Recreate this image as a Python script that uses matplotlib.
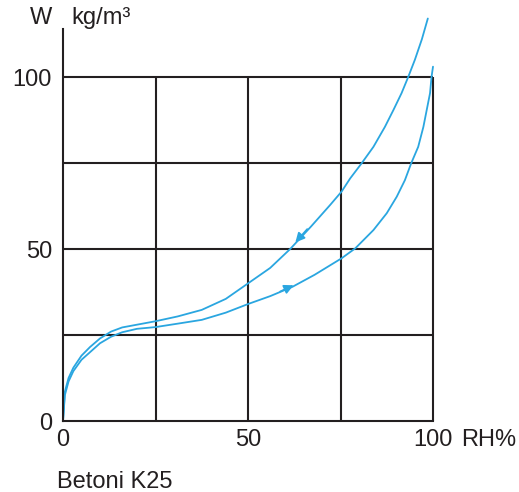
import matplotlib.pyplot as plt

# Desorption (upper) and adsorption (lower) curves
rh_down = [0, 0.5, 1.5, 2.8, 5, 7.3, 10, 13, 16, 20, 25, 31, 37.5, 44, 50, 56, 61.4, 67, 72.2, 75.3, 77.6,
           80.7, 83.9, 87, 89.3, 91.5, 93.3, 95.1, 97, 98.6]
w_down = [0, 8.5, 12.5, 15.5, 19, 21.5, 24, 26, 27.2, 28, 29, 30.4, 32.3, 35.5, 40, 44.5, 50, 56.5, 62.8, 66.7, 70.5,
          74.9, 79.7, 85.5, 90.4, 95.3, 100, 105, 111, 117]

rh_up = [0, 0.5, 1.5, 2.8, 5, 7.3, 10, 13, 16, 20, 25, 31, 37.5, 44, 50, 56, 62, 68, 75.3, 79, 83.9, 87.5, 90.2,
         92.4, 94.1, 96, 97.4, 98.3, 99.2, 99.6, 100]
w_up = [0, 7.5, 11.5, 14.5, 17.8, 20, 22.6, 24.5, 25.8, 26.8, 27.3, 28.3, 29.4, 31.5, 34, 36.3, 39, 42.5, 47.3, 50.2,
        55.5, 60.4, 65.2, 70, 74.9, 79.7, 85.5, 90.4, 95.3, 100, 103]

x_ticks = [0, 50, 100]
x_tick_labels = ['0', '50', '100']
y_ticks = [0, 50, 100]
grid_x = [25, 50, 75, 100]
grid_y = [25, 50, 75, 100]

blue = '#2aa6e0'
ink = '#231f20'
plt.rcParams['font.family'] = ['Liberation Sans', 'DejaVu Sans']

fig = plt.figure(figsize=(5.19, 4.92), dpi=100)
ax = fig.add_axes([63 / 519, 71 / 492, 370 / 519, 118 * 3.44 / 492])
ax.set_xlim(0, 100)
ax.set_ylim(0, 118)

# grid box stops at 100 in both directions
ax.vlines(grid_x, 0, 100, color=ink, lw=1.5, clip_on=False)
ax.hlines(grid_y, 0, 100, color=ink, lw=1.5, clip_on=False)

ax.plot(rh_down, w_down, color=blue, lw=1.3, clip_on=False, solid_capstyle='round')
ax.plot(rh_up, w_up, color=blue, lw=1.3, clip_on=False, solid_capstyle='round')

# direction arrows
ax.annotate('', xy=(62.3, 51.3), xytext=(66.5, 56.4),
            arrowprops=dict(arrowstyle='-|>', color=blue, lw=1.2, mutation_scale=14))
ax.annotate('', xy=(63.0, 39.8), xytext=(58.0, 37.3),
            arrowprops=dict(arrowstyle='-|>', color=blue, lw=1.2, mutation_scale=14))

for side in ['top', 'right']:
    ax.spines[side].set_visible(False)
ax.spines['left'].set_bounds(0, 114)
ax.spines['left'].set_linewidth(1.5)
ax.spines['bottom'].set_linewidth(1.5)
ax.spines['left'].set_color(ink)
ax.spines['bottom'].set_color(ink)

ax.set_xticks(x_ticks)
ax.set_xticklabels(x_tick_labels)
ax.set_yticks(y_ticks)
ax.tick_params(length=0, labelsize=17, labelcolor=ink)
ax.tick_params(axis='y', pad=8)
ax.tick_params(axis='x', pad=6)

ax.annotate('RH%', xy=(100, 0), xytext=(20, -6), textcoords='offset points',
            fontsize=17, color=ink, ha='left', va='top')
ax.annotate('W', xy=(0, 114), xytext=(-8, 0), textcoords='offset points',
            fontsize=17, color=ink, ha='right', va='bottom')
ax.annotate('kg/m³', xy=(0, 114), xytext=(6, 0), textcoords='offset points',
            fontsize=17, color=ink, ha='left', va='bottom')
fig.text(57 / 519, 1 - 488 / 492, 'Betoni K25', fontsize=17, color=ink, ha='left', va='baseline')

fig.savefig('out.png', dpi=100)
